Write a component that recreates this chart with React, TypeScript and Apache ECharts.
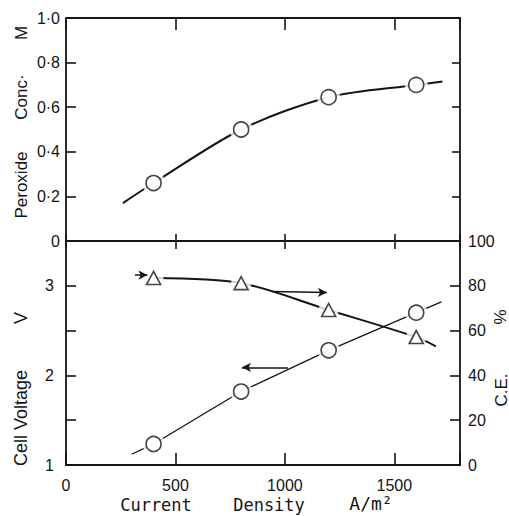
import React, { useEffect, useRef } from "react";
import * as echarts from "echarts";

// ---- Data ----
const currentDensity = [400, 800, 1200, 1600];
const peroxideConc = [0.26, 0.5, 0.645, 0.7];
const peroxideCurveX = [260, 400, 800, 1200, 1600, 1720];
const peroxideCurveY = [0.17, 0.26, 0.5, 0.645, 0.7, 0.715];

const cellVoltage = [1.235, 1.82, 2.28, 2.7];
const voltageLineX = [300, 400, 800, 1200, 1600, 1715];
const voltageLineY = [1.12, 1.235, 1.82, 2.28, 2.7, 2.82];

const currentEff = [83.5, 81.2, 69.2, 57.1];
const ceCurveX = [400, 800, 1200, 1600, 1690];
const ceCurveY = [83.5, 81.2, 69.2, 57.1, 53];

const xTickLabels = ["0", "500", "1000", "1500"];
const peroxideTickLabels = ["0", "0·2", "0·4", "0·6", "0·8", "1·0"];
const voltageTickLabels = ["1", "2", "3"];
const ceTickLabels = ["0", "20", "40", "60", "80", "100"];

const INK = "#141414";
const TICK_FONT = "Liberation Sans";

const zip = (xs: number[], ys: number[]) => xs.map((x, i) => [x, ys[i]]);

export default function App() {
  const ref = useRef<HTMLDivElement>(null);
  useEffect(() => {
    if (!ref.current) return;
    const chart = echarts.init(ref.current, undefined, { renderer: "svg" });
    const axisLine = { show: true, onZero: false, lineStyle: { color: INK, width: 1.8 } };
    const hidden = { show: false };
    const tickStyle = { color: INK, width: 1.6 };
    const labelBase = { color: INK, fontFamily: TICK_FONT, fontSize: 16 };

    const xBase = {
      type: "value" as const,
      min: 0,
      max: 1800,
      interval: 500,
      splitLine: hidden,
      axisLine,
    };

    chart.setOption({
      animation: false,
      backgroundColor: "#ffffff",
      grid: [
        { left: 66, top: 18, right: 49, height: 223 },
        { left: 66, top: 241, right: 49, height: 224 },
      ],
      xAxis: [
        { ...xBase, gridIndex: 0, position: "bottom", axisLabel: hidden, axisTick: { inside: true, length: 7, lineStyle: tickStyle } },
        { ...xBase, gridIndex: 0, position: "top", axisLabel: hidden, axisTick: { inside: true, length: 12, lineStyle: tickStyle } },
        {
          ...xBase,
          gridIndex: 1,
          position: "bottom",
          axisTick: { inside: true, length: 12, lineStyle: tickStyle },
          axisLabel: {
            ...labelBase,
            margin: 12,
            formatter: (v: number) => (v % 500 === 0 ? xTickLabels[v / 500] ?? "" : ""),
          },
        },
        { ...xBase, gridIndex: 1, position: "top", axisLabel: hidden, axisTick: { inside: true, length: 8, lineStyle: tickStyle } },
      ],
      yAxis: [
        {
          type: "value",
          gridIndex: 0,
          position: "left",
          min: 0,
          max: 1,
          interval: 0.2,
          splitLine: hidden,
          axisLine,
          axisTick: { inside: true, length: 10, lineStyle: tickStyle },
          axisLabel: {
            ...labelBase,
            margin: 6,
            formatter: (v: number) => peroxideTickLabels[Math.round(v / 0.2)] ?? "",
          },
        },
        {
          type: "value",
          gridIndex: 0,
          position: "right",
          min: 0,
          max: 1,
          interval: 0.2,
          splitLine: hidden,
          axisLine,
          axisTick: { inside: true, length: 8, lineStyle: tickStyle },
          axisLabel: hidden,
        },
        {
          type: "value",
          gridIndex: 1,
          position: "left",
          min: 1,
          max: 3.5,
          interval: 0.5,
          splitLine: hidden,
          axisLine,
          axisTick: { inside: true, length: 10, lineStyle: tickStyle },
          axisLabel: {
            ...labelBase,
            margin: 12,
            formatter: (v: number) => (Number.isInteger(v) ? voltageTickLabels[v - 1] ?? "" : ""),
          },
        },
        {
          type: "value",
          gridIndex: 1,
          position: "right",
          min: 0,
          max: 100,
          interval: 20,
          splitLine: hidden,
          axisLine,
          axisTick: { inside: true, length: 10, lineStyle: tickStyle },
          axisLabel: {
            ...labelBase,
            margin: 8,
            formatter: (v: number) => ceTickLabels[Math.round(v / 20)] ?? "",
          },
        },
      ],
      series: [
        // Peroxide concentration
        {
          type: "line",
          xAxisIndex: 0,
          yAxisIndex: 0,
          data: zip(peroxideCurveX, peroxideCurveY),
          smooth: 0.3,
          showSymbol: false,
          lineStyle: { color: INK, width: 2 },
          z: 2,
          silent: true,
        },
        {
          type: "scatter",
          xAxisIndex: 0,
          yAxisIndex: 0,
          data: zip(currentDensity, peroxideConc),
          symbol: "circle",
          symbolSize: 23,
          itemStyle: { color: "#ffffff" },
          z: 3,
          silent: true,
        },
        {
          type: "scatter",
          xAxisIndex: 0,
          yAxisIndex: 0,
          data: zip(currentDensity, peroxideConc),
          symbol: "circle",
          symbolSize: 15,
          itemStyle: { color: "#ffffff", borderColor: INK, borderWidth: 1.6 },
          z: 4,
          silent: true,
        },
        // Cell voltage
        {
          type: "line",
          xAxisIndex: 2,
          yAxisIndex: 2,
          data: zip(voltageLineX, voltageLineY),
          showSymbol: false,
          lineStyle: { color: INK, width: 1.3 },
          z: 2,
          silent: true,
          markLine: {
            silent: true,
            symbol: ["none", "arrow"],
            symbolSize: [7, 9],
            label: { show: false },
            lineStyle: { color: INK, width: 1.5, type: "solid" },
            data: [[{ coord: [1014, 2.09] }, { coord: [804, 2.09] }]],
          },
        },
        {
          type: "scatter",
          xAxisIndex: 2,
          yAxisIndex: 2,
          data: zip(currentDensity, cellVoltage),
          symbol: "circle",
          symbolSize: 22,
          itemStyle: { color: "#ffffff" },
          z: 3,
          silent: true,
        },
        {
          type: "scatter",
          xAxisIndex: 2,
          yAxisIndex: 2,
          data: zip(currentDensity, cellVoltage),
          symbol: "circle",
          symbolSize: 15,
          itemStyle: { color: "#ffffff", borderColor: INK, borderWidth: 1.6 },
          z: 4,
          silent: true,
        },
        // Current efficiency
        {
          type: "line",
          xAxisIndex: 2,
          yAxisIndex: 3,
          data: zip(ceCurveX, ceCurveY),
          smooth: 0.3,
          showSymbol: false,
          lineStyle: { color: INK, width: 2 },
          z: 2,
          silent: true,
          markLine: {
            silent: true,
            symbol: ["none", "arrow"],
            symbolSize: [7, 9],
            label: { show: false },
            lineStyle: { color: INK, width: 1.5, type: "solid" },
            data: [
              [{ coord: [941, 77.4] }, { coord: [1192, 77.0] }],
              [{ coord: [315, 84.8] }, { coord: [372, 84.8] }],
            ],
          },
        },
        {
          type: "scatter",
          xAxisIndex: 2,
          yAxisIndex: 3,
          data: zip(currentDensity, currentEff),
          symbol: "circle",
          symbolSize: 20,
          itemStyle: { color: "#ffffff" },
          z: 3,
          silent: true,
        },
        {
          type: "scatter",
          xAxisIndex: 2,
          yAxisIndex: 3,
          data: zip(currentDensity, currentEff),
          symbol: "triangle",
          symbolSize: [14, 13],
          itemStyle: { color: "#ffffff", borderColor: INK, borderWidth: 1.6 },
          z: 4,
          silent: true,
        },
      ],
      graphic: [
        // y-axis name, upper
        { type: "text", x: 21, y: 185, rotation: Math.PI / 2, style: { text: "Peroxide", fill: INK, fontFamily: TICK_FONT, fontSize: 17, align: "center", verticalAlign: "middle" } },
        { type: "text", x: 21, y: 97, rotation: Math.PI / 2, style: { text: "Conc·", fill: INK, fontFamily: TICK_FONT, fontSize: 17, align: "center", verticalAlign: "middle" } },
        { type: "text", x: 21, y: 33, rotation: Math.PI / 2, style: { text: "M", fill: INK, fontFamily: TICK_FONT, fontSize: 17, align: "center", verticalAlign: "middle" } },
        // y-axis name, lower left
        { type: "text", x: 21, y: 418, rotation: Math.PI / 2, style: { text: "Cell Voltage", fill: INK, fontFamily: TICK_FONT, fontSize: 18, align: "center", verticalAlign: "middle" } },
        { type: "text", x: 21, y: 318, rotation: Math.PI / 2, style: { text: "V", fill: INK, fontFamily: TICK_FONT, fontSize: 18, align: "center", verticalAlign: "middle" } },
        // y-axis name, lower right
        { type: "text", x: 501, y: 390, rotation: Math.PI / 2, style: { text: "C.E.", fill: INK, fontFamily: TICK_FONT, fontSize: 17, align: "center", verticalAlign: "middle" } },
        { type: "text", x: 500, y: 317, rotation: Math.PI / 2, style: { text: "%", fill: INK, fontFamily: TICK_FONT, fontSize: 17, align: "center", verticalAlign: "middle" } },
        // x-axis name
        { type: "text", x: 156, y: 505, style: { text: "Current", fill: INK, fontFamily: "DejaVu Sans Mono", fontSize: 17, align: "center", verticalAlign: "middle" } },
        { type: "text", x: 269, y: 505, style: { text: "Density", fill: INK, fontFamily: "DejaVu Sans Mono", fontSize: 17, align: "center", verticalAlign: "middle" } },
        { type: "text", x: 371, y: 503, style: { text: "A/m²", fill: INK, fontFamily: "DejaVu Sans Mono", fontSize: 18, align: "center", verticalAlign: "middle" } },
      ],
    });
    return () => chart.dispose();
  }, []);
  return <div ref={ref} style={{ width: 509, height: 516, position: "absolute", left: 0, top: 0 }} />;
}
